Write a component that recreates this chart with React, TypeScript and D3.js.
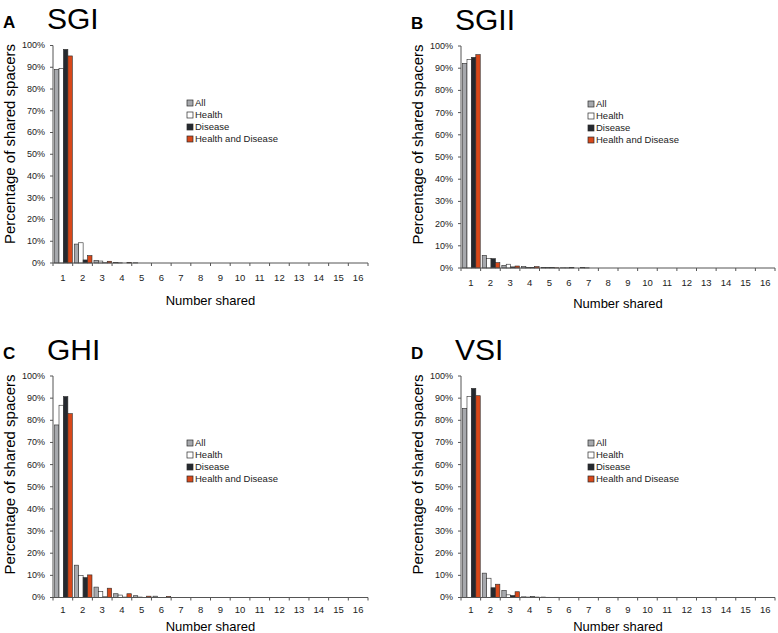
import React from 'react';
import * as d3 from 'd3';

// categories on the x axis
const numbers = d3.range(1, 17).map(String);
const seriesNames = ['All', 'Health', 'Disease', 'Health and Disease'];
const yTicks = [0, 10, 20, 30, 40, 50, 60, 70, 80, 90, 100];

// SGI
const sgiAll = [89.0, 8.7, 1.2, 0.3, 0.1, 0, 0, 0, 0, 0, 0, 0, 0, 0, 0, 0];
const sgiHealth = [89.4, 9.3, 0.9, 0.1, 0, 0, 0, 0, 0, 0, 0, 0, 0, 0, 0, 0];
const sgiDisease = [98.2, 1.4, 0.1, 0, 0, 0, 0, 0, 0, 0, 0, 0, 0, 0, 0, 0];
const sgiBoth = [95.2, 3.4, 0.8, 0.3, 0, 0, 0, 0, 0, 0, 0, 0, 0, 0, 0, 0];

// SGII
const sgiiAll = [92.2, 5.7, 1.2, 0.6, 0.3, 0.1, 0.2, 0, 0, 0, 0, 0, 0, 0, 0, 0];
const sgiiHealth = [94.0, 4.2, 1.7, 0.3, 0.2, 0.1, 0.1, 0, 0, 0, 0, 0, 0, 0, 0, 0];
const sgiiDisease = [94.9, 4.2, 0.5, 0.3, 0.2, 0.2, 0, 0, 0, 0, 0, 0, 0, 0, 0, 0];
const sgiiBoth = [96.1, 2.4, 0.9, 0.6, 0.1, 0, 0, 0, 0, 0, 0, 0, 0, 0, 0, 0];

// GHI
const ghiAll = [77.9, 14.6, 4.7, 1.7, 0.8, 0.6, 0, 0, 0, 0, 0, 0, 0, 0, 0, 0];
const ghiHealth = [86.8, 9.9, 2.7, 1.1, 0.2, 0, 0, 0, 0, 0, 0, 0, 0, 0, 0, 0];
const ghiDisease = [90.7, 9.0, 0.3, 0.2, 0, 0, 0, 0, 0, 0, 0, 0, 0, 0, 0, 0];
const ghiBoth = [83.0, 10.2, 4.2, 1.7, 0.6, 0.5, 0, 0, 0, 0, 0, 0, 0, 0, 0, 0];

// VSI
const vsiAll = [85.4, 11.0, 3.2, 0.3, 0.2, 0, 0, 0, 0, 0, 0, 0, 0, 0, 0, 0];
const vsiHealth = [90.7, 8.7, 1.2, 0.2, 0.1, 0, 0, 0, 0, 0, 0, 0, 0, 0, 0, 0];
const vsiDisease = [94.4, 4.4, 0.9, 0.4, 0, 0, 0, 0, 0, 0, 0, 0, 0, 0, 0, 0];
const vsiBoth = [91.1, 6.0, 2.6, 0.2, 0.1, 0, 0, 0, 0, 0, 0, 0, 0, 0, 0, 0];

const fills = ['#a7a9ad', '#ffffff', '#25292f', '#d8481a'];
const font = '"Liberation Sans", Arial, sans-serif';

interface PanelProps {
  letter: string;
  title: string;
  series: number[][];
  x0: number;
  x1: number;
  yTop: number;
  yBottom: number;
  labelDy: number;
  titleDy: number;
  legendX: number;
  legendY: number;
}

function Panel({ letter, title, series, x0, x1, yTop, yBottom, labelDy, titleDy, legendX, legendY }: PanelProps) {
  const x = d3.scaleBand().domain(numbers).range([x0, x1]).padding(0);
  const inner = d3.scaleBand().domain(seriesNames)
    .range([x.bandwidth() * 0.08, x.bandwidth() * 0.98]);
  const y = d3.scaleLinear().domain([0, 100]).range([yBottom, yTop]);
  const bounds = numbers.map(n => x(n)!).concat([x1]);

  return (
    <g>
      <text x={x0 - 50} y={yTop - 17.5} fontSize={17} fontWeight="bold" fontFamily={font}>{letter}</text>
      <text x={x0 - 6} y={yTop - 16.5} fontSize={30} fontFamily={font}>{title}</text>

      {/* bars */}
      {series.map((vals, si) =>
        vals.map((v, i) => v > 0 && (
          <rect
            key={`${si}-${i}`}
            x={x(numbers[i])! + inner(seriesNames[si])!}
            y={y(v)}
            width={inner.bandwidth()}
            height={yBottom - y(v)}
            fill={fills[si]}
            stroke="#2b2b2b"
            strokeWidth={0.6}
          />
        ))
      )}

      {/* y axis */}
      <line x1={x0} x2={x0} y1={yTop} y2={yBottom} stroke="#555" strokeWidth={1} />
      {yTicks.map(t => (
        <g key={t}>
          <line x1={x0 - 3} x2={x0} y1={y(t)} y2={y(t)} stroke="#555" />
          <text x={x0 - 8} y={y(t)} dy="0.33em" textAnchor="end" fontSize={9} fontFamily={font} fill="#222">{t}%</text>
        </g>
      ))}
      <text
        transform={`translate(${x0 - 38.5},${yTop + 98.5}) rotate(-90)`}
        textAnchor="middle"
        fontSize={15}
        fontFamily={font}
      >Percentage of shared spacers</text>

      {/* x axis */}
      <line x1={x0} x2={x1} y1={yBottom} y2={yBottom} stroke="#555" strokeWidth={1} />
      {bounds.map((b, i) => (
        <line key={i} x1={b} x2={b} y1={yBottom} y2={yBottom + 3} stroke="#555" />
      ))}
      {numbers.map(n => (
        <text key={n} x={x(n)! + x.bandwidth() / 2} y={yBottom + labelDy} textAnchor="middle" fontSize={9.5} fontFamily={font} fill="#222">{n}</text>
      ))}
      <text x={(x0 + x1) / 2} y={yBottom + titleDy} textAnchor="middle" fontSize={13} fontFamily={font}>Number shared</text>

      {/* legend */}
      {seriesNames.map((s, i) => (
        <g key={s} transform={`translate(${legendX},${legendY + i * 12})`}>
          <rect x={0} y={-3} width={6} height={6} fill={fills[i]} stroke="#2b2b2b" strokeWidth={0.7} />
          <text x={8} y={0} dy="0.35em" fontSize={9.5} fontFamily={font} fill="#222">{s}</text>
        </g>
      ))}
    </g>
  );
}

export default function App() {
  return (
    <svg width={778} height={633} style={{ position: 'absolute', left: 0, top: 0, background: '#fff' }}>
      <Panel letter="A" title="SGI" series={[sgiAll, sgiHealth, sgiDisease, sgiBoth]}
        x0={53} x1={368} yTop={45.5} yBottom={263} labelDy={17.5} titleDy={42} legendX={187} legendY={103} />
      <Panel letter="B" title="SGII" series={[sgiiAll, sgiiHealth, sgiiDisease, sgiiBoth]}
        x0={461} x1={775} yTop={46} yBottom={268} labelDy={17.5} titleDy={40} legendX={588} legendY={104} />
      <Panel letter="C" title="GHI" series={[ghiAll, ghiHealth, ghiDisease, ghiBoth]}
        x0={53} x1={368} yTop={376} yBottom={597.5} labelDy={15} titleDy={33} legendX={187} legendY={443} />
      <Panel letter="D" title="VSI" series={[vsiAll, vsiHealth, vsiDisease, vsiBoth]}
        x0={461} x1={775} yTop={376} yBottom={597.5} labelDy={15} titleDy={33} legendX={588} legendY={443} />
    </svg>
  );
}
